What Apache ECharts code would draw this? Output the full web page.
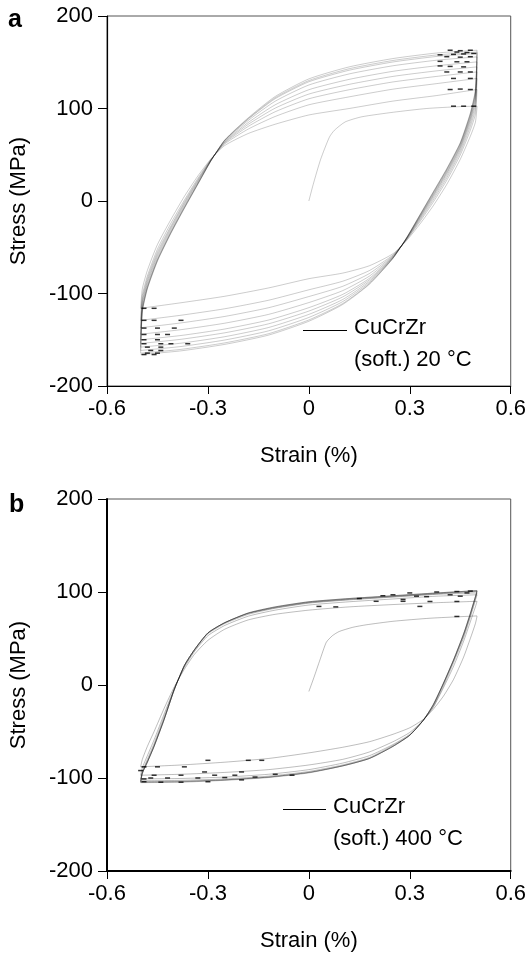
<!DOCTYPE html>
<html>
<head>
<meta charset="utf-8">
<script src="https://cdn.jsdelivr.net/npm/echarts@6/dist/echarts.min.js"></script>
<style>
  html, body { margin: 0; padding: 0; background: #fff; }
  #chart { width: 529px; height: 953px; }
</style>
</head>
<body>
<div id="chart"></div>
<script>
// 坐标轴刻度
const strainTicks = [-0.6, -0.3, 0, 0.3, 0.6];
const stressTicks = [-200, -100, 0, 100, 200];

// ---- (a) CuCrZr soft, 20 °C ----
// 首次加载曲线 [strain %, stress MPa]
const firstLoadA = [[0, 0], [0.013, 18], [0.035, 45], [0.061, 69], [0.076, 76.5], [0.108, 85.5],
  [0.157, 91], [0.252, 96], [0.35, 100], [0.446, 102], [0.5, 102.5]];
// 上升段 (压 -> 拉)
const ascStrainA = [-0.5, -0.495, -0.48, -0.45, -0.41, -0.37, -0.33, -0.29, -0.25, -0.18, -0.1, 0, 0.12, 0.25, 0.38, 0.5];
const ascStressA = [
  [-116, -95, -75, -47, -20, 5, 27, 46, 60, 73, 83, 93, 100, 108, 114, 120.6],
  [-129, -102, -81, -52, -24, 1, 24.5, 45.4, 61.7, 77.8, 91.4, 104, 112.6, 120.9, 126.9, 132.5],
  [-137, -106, -84, -55, -27, -1, 23, 45, 62.7, 80.7, 96.5, 110.5, 120.3, 128.7, 134.7, 139.6],
  [-144, -109.5, -86.6, -57.4, -28.7, -2.5, 21.8, 44.8, 63.5, 82.9, 100.4, 115.6, 126.1, 134.7, 140.7, 145],
  [-150, -112.5, -89, -59.6, -30.5, -4.1, 20.7, 44.6, 64.2, 84.9, 104, 120.3, 131.5, 140.2, 146.2, 150.4],
  [-154, -115.8, -91.6, -62, -32.5, -5.8, 19.5, 44.3, 65, 87.1, 107.9, 125.4, 137.4, 146.2, 152.2, 155.8],
  [-158, -118, -93.4, -63.6, -33.8, -7, 18.7, 44.2, 65.5, 88.6, 110.6, 128.9, 141.4, 150.3, 156.3, 159.5],
  [-161.6, -118.9, -94.1, -64.2, -34.3, -7.4, 18.4, 44.1, 65.7, 89.2, 111.7, 130.2, 143, 151.9, 157.9, 161],
  [-164.5, -120, -95, -65, -35, -8, 18, 44, 66, 90, 113, 132, 145, 154, 160, 163]
];
// 下降段 (拉 -> 压)
const descStrainA = [0.5, 0.495, 0.48, 0.45, 0.41, 0.37, 0.33, 0.29, 0.25, 0.18, 0.1, 0, -0.12, -0.25, -0.38, -0.5];
const descStressA = [
  [102.5, 85, 70, 45, 18, -5, -25, -43, -57, -70, -78, -84, -94, -103, -110, -116],
  [120.6, 94.1, 76.5, 49.7, 22.4, -1.1, -22.4, -42.2, -58.3, -75.2, -86.8, -96, -107.3, -116.5, -123.5, -129],
  [132.5, 99.7, 80.5, 52.6, 25.1, 1.3, -20.8, -41.7, -59.1, -78.4, -92.3, -103.3, -115.4, -124.8, -131.8, -137],
  [139.6, 104.6, 84, 55.1, 27.5, 3.4, -19.4, -41.3, -59.8, -81.2, -97, -109.8, -122.6, -132.1, -139.1, -144],
  [145, 108.8, 87, 57.2, 29.6, 5.2, -18.2, -41, -60.4, -83.6, -101.1, -115.3, -128.7, -138.4, -145.4, -150],
  [150.4, 111.6, 89, 58.7, 30.9, 6.4, -17.4, -40.7, -60.8, -85.2, -103.8, -119, -132.8, -142.5, -149.5, -154],
  [155.8, 114.4, 91, 60.1, 32.3, 7.6, -16.6, -40.5, -61.2, -86.8, -106.6, -122.6, -136.8, -146.7, -153.7, -158],
  [159.5, 116.9, 92.8, 61.4, 33.5, 8.7, -15.9, -40.3, -61.6, -88.2, -108.9, -125.9, -140.4, -150.3, -157.3, -161.6],
  [161, 119, 94.3, 62.5, 34.5, 9.6, -15.3, -40.1, -61.9, -89.4, -111, -128.6, -143.5, -153.4, -160.4, -164.5],
  [163, 120, 95, 63, 35, 10, -15, -40, -62, -90, -112, -130, -145, -155, -162, -166]
];
// 转折点附近的黑色短划
const dashA = [[0.42, 163], [0.45, 162.5], [0.48, 163], [0.44, 161], [0.47, 160.5], [0.39, 158], [0.43, 158.5],
  [0.46, 159], [0.49, 159.5], [0.41, 156], [0.45, 155.5], [0.48, 156], [0.39, 151], [0.44, 150.5], [0.47, 150.5],
  [0.39, 146], [0.42, 145.5], [0.46, 145], [0.41, 139.5], [0.45, 139.5], [0.48, 139.5], [0.43, 132.5], [0.48, 132.5],
  [0.42, 120.5], [0.45, 121], [0.48, 120.5], [0.43, 102.5], [0.46, 102.5], [0.49, 102.5],
  [-0.49, -116], [-0.46, -116], [-0.49, -129], [-0.46, -129], [-0.38, -129], [-0.49, -137.4], [-0.45, -137.4],
  [-0.4, -137.4], [-0.49, -144.3], [-0.45, -144.3], [-0.42, -144.3], [-0.49, -150], [-0.45, -150], [-0.49, -154.3],
  [-0.44, -154.3], [-0.41, -154.3], [-0.36, -154.3], [-0.48, -158], [-0.44, -158], [-0.47, -161.6], [-0.44, -161.6],
  [-0.48, -164.5], [-0.45, -164.5], [-0.49, -166], [-0.46, -166]];

// ---- (b) CuCrZr soft, 400 °C ----
const firstLoadB = [[0, -7], [0.015, 8], [0.033, 27], [0.052, 46], [0.07, 53], [0.09, 57.5], [0.13, 62],
  [0.17, 64.7], [0.25, 68.5], [0.36, 71.8], [0.5, 74.3]];
const ascStrainB = [-0.5, -0.495, -0.48, -0.46, -0.43, -0.4, -0.37, -0.34, -0.3, -0.25, -0.18, -0.1, 0, 0.12, 0.25, 0.38, 0.5];
const ascStressB = [
  [-88, -80, -66, -50, -25, -2, 17, 33, 48, 60, 70, 76, 80.5, 84, 86.5, 88.5, 90],
  [-97, -89, -76, -59, -31, -4, 19, 36, 53, 64, 74, 80.5, 86, 89.5, 92.5, 95.5, 97],
  [-101, -93, -80, -63, -34, -4, 20, 37, 55, 66, 76, 82.5, 88, 91.5, 94.5, 97.5, 99],
  [-103, -94, -82, -65, -36, -5, 21, 38, 56, 67, 77, 83, 88.5, 92, 95, 98, 100.5],
  [-104, -95, -83, -66, -37, -5, 21, 38, 56, 67, 77, 83.5, 89, 92.5, 95.5, 98.5, 101],
  [-104.5, -95, -83, -66, -37, -5, 21, 38, 56, 67, 77.5, 84, 89.5, 93, 96, 99, 101.5],
  [-105, -95, -83, -66, -37, -5, 21, 38, 56, 67, 77.5, 84, 89.5, 93, 96, 99, 101.5]
];
const descStrainB = [0.5, 0.495, 0.48, 0.46, 0.43, 0.4, 0.37, 0.34, 0.3, 0.25, 0.18, 0.1, 0, -0.12, -0.25, -0.38, -0.5];
const descStressB = [
  [74, 66, 50, 30, 6, -12, -26, -37, -46, -53, -61, -67, -73, -79, -83, -86, -88],
  [90, 84, 68, 47, 20, -3, -24, -38, -51, -61, -72, -80, -86, -91, -94, -96, -97],
  [97, 91, 73, 51, 24, -1, -23, -38, -53, -64, -76, -84, -91, -96, -99, -100.5, -101],
  [99, 93, 75, 53, 26, 1, -22, -38, -54, -65, -78, -86, -93, -98, -101, -102.5, -103],
  [100.5, 94.5, 76.5, 54.5, 26.5, 1.5, -21, -38, -54, -66, -79, -87, -94, -99, -102, -103.5, -104],
  [101, 95, 77, 55, 27, 2, -21, -38, -54, -66, -79, -87, -94, -99, -102, -104, -104.5],
  [101.5, 95, 77, 55, 27, 2, -21, -38, -54, -66, -79, -87, -94.5, -99.5, -102.5, -104.5, -105]
];
const dashB = [[0.08, 84], [0.2, 90], [0.28, 92], [0.35, 95], [0.42, 97], [0.47, 99], [0.3, 99], [0.38, 100],
  [0.44, 100.5], [0.48, 101], [0.25, 97], [0.32, 95.5], [0.45, 95.5], [0.28, 90], [0.36, 89.8], [0.44, 89.8],
  [0.03, 84.5], [0.33, 84.5], [0.44, 73.7], [0.15, 93], [0.22, 96],
  [-0.49, -88], [-0.45, -88], [-0.37, -88], [-0.3, -81], [-0.18, -81], [-0.14, -81], [-0.31, -93.5], [-0.2, -93.5],
  [-0.46, -97], [-0.38, -97], [-0.28, -97], [-0.22, -97], [-0.1, -96], [-0.47, -100], [-0.42, -100], [-0.33, -100],
  [-0.25, -99.5], [-0.16, -99], [-0.05, -97], [-0.49, -104], [-0.44, -104.5], [-0.38, -104.5], [-0.3, -104],
  [-0.2, -102], [-0.49, -101], [-0.5, -92]];

const FONT = '"Liberation Sans", Arial, sans-serif';
// 单条线是浅灰色，重叠处自然变深
const curveColors = ['rgba(0,0,0,0.2)', 'rgba(0,0,0,0.26)'];

// 把应变网格和应力值组合成点列
function zip(xs, ys) {
  return xs.map((x, i) => [x, ys[i]]);
}

function curve(points, idx) {
  return {
    type: 'line', xAxisIndex: idx, yAxisIndex: idx, data: points,
    showSymbol: false, symbol: 'none', smooth: 0.2,
    lineStyle: { color: curveColors[idx], width: 1 }, silent: true
  };
}

function buildSeries(idx, firstLoad, descStrain, descStress, ascStrain, ascStress, dashes) {
  const out = [curve(firstLoad, idx)];
  for (let i = 0; i < descStress.length; i++) {
    out.push(curve(zip(descStrain, descStress[i]), idx));
    if (ascStress[i]) out.push(curve(zip(ascStrain, ascStress[i]), idx));
  }
  out.push({
    type: 'scatter', xAxisIndex: idx, yAxisIndex: idx, data: dashes,
    symbol: 'rect', symbolSize: [5, 1.5], itemStyle: { color: '#000' }, silent: true
  });
  return out;
}

function xAxisCfg(idx) {
  return {
    type: 'value', gridIndex: idx, min: strainTicks[0], max: strainTicks[strainTicks.length - 1], interval: 0.3,
    name: 'Strain (%)', nameLocation: 'middle', nameGap: 59,
    nameTextStyle: { fontFamily: FONT, fontSize: 22, color: '#000' },
    axisLine: { onZero: false, lineStyle: { color: '#000', width: idx === 1 ? 2 : 1.2 } },
    axisTick: { inside: false, length: 8, lineStyle: { color: '#000', width: 1 } },
    axisLabel: {
      fontFamily: FONT, fontSize: 22, color: '#000', margin: 12,
      formatter: v => String(Math.round(v * 10) / 10)
    },
    splitLine: { show: false }
  };
}

function yAxisCfg(idx) {
  return {
    type: 'value', gridIndex: idx, min: stressTicks[0], max: stressTicks[stressTicks.length - 1], interval: 100,
    name: 'Stress (MPa)', nameLocation: 'middle', nameGap: 77, nameRotate: 90,
    nameTextStyle: { fontFamily: FONT, fontSize: 22, color: '#000' },
    axisLine: { onZero: false, lineStyle: { color: '#000', width: idx === 1 ? 2 : 1.2 } },
    axisTick: { inside: false, length: 9, lineStyle: { color: '#000', width: 1 } },
    axisLabel: { fontFamily: FONT, fontSize: 22, color: '#000', margin: 14 },
    splitLine: { show: false }
  };
}

function legendGraphic(x1, x2, y, line1, line2, textX) {
  return [
    { type: 'line', shape: { x1: x1, y1: y + 0.5, x2: x2, y2: y + 0.5 }, style: { stroke: '#000', lineWidth: 1 } },
    { type: 'text', left: textX, top: y - 13, style: { text: line1, font: '22px ' + FONT, fill: '#000' } },
    { type: 'text', left: textX, top: y + 19, style: { text: line2, font: '22px ' + FONT, fill: '#000' } }
  ];
}

const chart = echarts.init(document.getElementById('chart'), null, { renderer: 'canvas' });

const option = {
  animation: false,
  backgroundColor: '#fff',
  grid: [
    { left: 98, top: 16, width: 415, height: 370, show: true, borderColor: '#555', borderWidth: 1 },
    { left: 98, top: 499, width: 415, height: 373, show: true, borderColor: '#555', borderWidth: 1 }
  ],
  xAxis: [xAxisCfg(0), xAxisCfg(1)],
  yAxis: [yAxisCfg(0), yAxisCfg(1)],
  series: [].concat(
    buildSeries(0, firstLoadA, descStrainA, descStressA, ascStrainA, ascStressA, dashA),
    buildSeries(1, firstLoadB, descStrainB, descStressB, ascStrainB, ascStressB, dashB)
  ),
  graphic: [
    { type: 'text', left: 8, top: 8, style: { text: 'a', font: 'bold 25px ' + FONT, fill: '#000' } },
    { type: 'text', left: 9, top: 493, style: { text: 'b', font: 'bold 25px ' + FONT, fill: '#000' } }
  ].concat(
    legendGraphic(303, 347, 330, 'CuCrZr', '(soft.) 20 °C', 354),
    legendGraphic(283, 326, 809, 'CuCrZr', '(soft.) 400 °C', 333)
  )
};

chart.setOption(option);
</script>
</body>
</html>
